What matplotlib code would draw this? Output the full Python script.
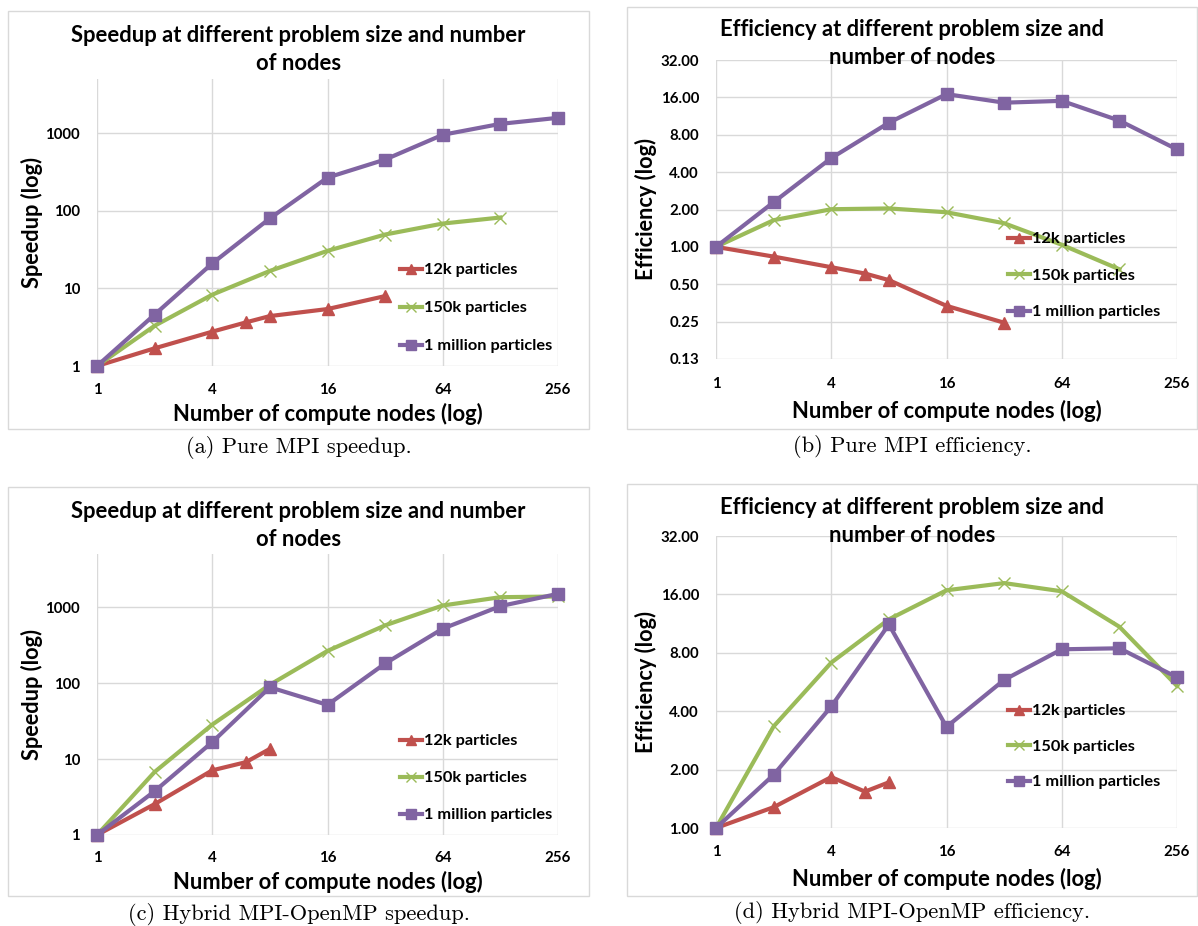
import matplotlib
matplotlib.use('Agg')
import matplotlib.pyplot as plt
from matplotlib.patches import Rectangle
from matplotlib.font_manager import FontProperties
from matplotlib.ticker import FixedLocator, FixedFormatter, NullLocator

# 数据
nodes = [1, 2, 4, 8, 16, 32, 64, 128, 256]
nodes_12k = [1, 2, 4, 6, 8, 16, 32]
nodes_12k_hybrid = [1, 2, 4, 6, 8]
nodes_150k_mpi = [1, 2, 4, 8, 16, 32, 64, 128]

mpi_speedup_12k = [1, 1.69, 2.77, 3.65, 4.4, 5.42, 7.96]
mpi_speedup_150k = [1, 3.3, 8.3, 16.8, 30.5, 49.5, 68.5, 82]
mpi_speedup_1m = [1, 4.6, 21, 80, 268, 458, 955, 1320, 1580]

mpi_eff_12k = [1, 0.835, 0.686, 0.61, 0.54, 0.335, 0.245]
mpi_eff_150k = [1, 1.64, 2.01, 2.04, 1.9, 1.55, 1.04, 0.66]
mpi_eff_1m = [1, 2.29, 5.19, 10.0, 17.0, 14.5, 15.0, 10.4, 6.1]

hyb_speedup_12k = [1, 2.55, 7.1, 9.1, 13.6]
hyb_speedup_150k = [1, 6.76, 28.4, 95, 265, 575, 1050, 1350, 1380]
hyb_speedup_1m = [1, 3.77, 16.7, 88, 51.6, 181, 520, 1030, 1495]

hyb_eff_12k = [1, 1.28, 1.83, 1.54, 1.72]
hyb_eff_150k = [1, 3.34, 7.12, 11.9, 16.8, 18.3, 16.6, 10.9, 5.4]
hyb_eff_1m = [1, 1.88, 4.23, 11.2, 3.32, 5.8, 8.34, 8.44, 5.98]

series_names = ['12k particles', '150k particles', '1 million particles']
x_ticks = [1, 4, 16, 64, 256]
speedup_ticks = [1, 10, 100, 1000]
speedup_labels = ['1', '10', '100', '1000']
eff_ticks_b = [0.125, 0.25, 0.5, 1, 2, 4, 8, 16, 32]
eff_labels_b = ['0.13', '0.25', '0.50', '1.00', '2.00', '4.00', '8.00', '16.00', '32.00']
eff_ticks_d = [1, 2, 4, 8, 16, 32]
eff_labels_d = ['1.00', '2.00', '4.00', '8.00', '16.00', '32.00']
xlabel = 'Number of compute nodes (log)'

W, H = 1198, 926
FONT = 'Lato'
fig = plt.figure(figsize=(W / 100, H / 100), dpi=100)
renderer = fig.canvas.get_renderer()

def fx(x):
    return x / W

def fy(y):
    return 1 - y / H

def text_wh(s, family, weight, size):
    prop = FontProperties(family=family, weight=weight, size=size)
    w, h, d = renderer.get_text_width_height_descent(s, prop, ismath=False)
    return w, h

def fit(s, target, family=FONT, weight='bold'):
    # 按参考图中文字的像素宽度换算字号
    w, _ = text_wh(s, family, weight, 10)
    return 10 * target / w

title_size = fit('Speedup at different problem size and number', 455)
xlabel_size = fit(xlabel, 310)
ylabel_size = fit('Speedup (log)', 132)
tick_size = fit('1000', 35)
legend_size = fit('1 million particles', 128)
caption_size = fit('(a) Pure MPI speedup.', 226, family='cmr10', weight='normal')
legend_text_h = text_wh('lp', FONT, 'bold', legend_size)[1]
legend_fs_px = legend_size * 100 / 72

colors = ['#C0504D', '#9BBB59', '#8064A2']

panels = [
    dict(box=(8, 11, 589, 429), plot=(97, 79, 558, 366),
         title=['Speedup at different problem size and number', 'of nodes'], ty=(35, 63),
         ylabel='Speedup (log)', ylx=32, xly=414, tky=388,
         cap='(a) Pure MPI speedup.', capy=448,
         ylim=(1, 5000), yticks=speedup_ticks, ylabels=speedup_labels, ybase=10,
         series=[(nodes_12k, mpi_speedup_12k), (nodes_150k_mpi, mpi_speedup_150k), (nodes, mpi_speedup_1m)],
         leg=(400, 270, 37.5)),
    dict(box=(627, 7, 1197, 429), plot=(716, 60, 1177, 359),
         title=['Efficiency at different problem size and', 'number of nodes'], ty=(30, 58),
         ylabel='Efficiency (log)', ylx=646, xly=411, tky=382,
         cap='(b) Pure MPI efficiency.', capy=447,
         ylim=(0.125, 32), yticks=eff_ticks_b, ylabels=eff_labels_b, ybase=2,
         series=[(nodes_12k, mpi_eff_12k), (nodes_150k_mpi, mpi_eff_150k), (nodes, mpi_eff_1m)],
         leg=(1008, 239, 36)),
    dict(box=(8, 487, 589, 896), plot=(97, 554, 558, 835),
         title=['Speedup at different problem size and number', 'of nodes'], ty=(511, 539),
         ylabel='Speedup (log)', ylx=32, xly=882, tky=857,
         cap='(c) Hybrid MPI-OpenMP speedup.', capy=914,
         ylim=(1, 5000), yticks=speedup_ticks, ylabels=speedup_labels, ybase=10,
         series=[(nodes_12k_hybrid, hyb_speedup_12k), (nodes, hyb_speedup_150k), (nodes, hyb_speedup_1m)],
         leg=(400, 741, 36.5)),
    dict(box=(627, 484, 1197, 896), plot=(716, 536, 1177, 828),
         title=['Efficiency at different problem size and', 'number of nodes'], ty=(507, 535),
         ylabel='Efficiency (log)', ylx=646, xly=879, tky=851,
         cap='(d) Hybrid MPI-OpenMP efficiency.', capy=912,
         ylim=(1, 32), yticks=eff_ticks_d, ylabels=eff_labels_d, ybase=2,
         series=[(nodes_12k_hybrid, hyb_eff_12k), (nodes, hyb_eff_150k), (nodes, hyb_eff_1m)],
         leg=(1008, 711, 35)),
]

markers = [dict(marker='^', markersize=9),
           dict(marker='x', markersize=8.5, markeredgewidth=1.0),
           dict(marker='s', markersize=8.5)]

for p in panels:
    # 外框
    bx0, by0, bx1, by1 = p['box']
    fig.patches.append(Rectangle((fx(bx0), fy(by1)), fx(bx1 - bx0), (by1 - by0) / H,
                                 transform=fig.transFigure, fill=False,
                                 edgecolor='#d9d9d9', linewidth=1.0))
    x0, y0, x1, y1 = p['plot']
    ax = fig.add_axes([fx(x0), fy(y1), fx(x1 - x0), (y1 - y0) / H])
    ax.set_xscale('log', base=2)
    ax.set_yscale('log', base=p['ybase'])
    for (xs, ys), c, m, name in zip(p['series'], colors, markers, series_names):
        ax.plot(xs, ys, color=c, linewidth=3, markerfacecolor=c, markeredgecolor=c,
                label=name, clip_on=False, zorder=3, **m)
    ax.set_xlim(1, 256)
    ax.set_ylim(*p['ylim'])
    ax.xaxis.set_major_locator(FixedLocator(x_ticks))
    ax.xaxis.set_major_formatter(FixedFormatter([str(t) for t in x_ticks]))
    ax.xaxis.set_minor_locator(NullLocator())
    ax.yaxis.set_major_locator(FixedLocator(p['yticks']))
    ax.yaxis.set_major_formatter(FixedFormatter(p['ylabels']))
    ax.yaxis.set_minor_locator(NullLocator())
    ax.grid(True, color='#d9d9d9', linewidth=1.0)
    ax.set_axisbelow(True)
    for s in ax.spines.values():
        s.set_visible(False)
    ax.tick_params(length=0, labelsize=tick_size, pad=17 * 0.72)
    for lab in ax.get_xticklabels() + ax.get_yticklabels():
        lab.set_fontfamily(FONT)
        lab.set_fontweight('bold')
    tick_h = text_wh('1', FONT, 'bold', tick_size)[1]
    ax.tick_params(axis='x', pad=((p['tky'] - y1) - tick_h / 2) * 0.72)

    cx = (bx0 + bx1) / 2
    for line, ty in zip(p['title'], p['ty']):
        fig.text(fx(cx), fy(ty), line, ha='center', va='center', fontsize=title_size,
                 fontweight='bold', family=FONT)
    fig.text(fx(p['ylx']), fy((y0 + y1) / 2), p['ylabel'], rotation=90, ha='center',
             va='center', fontsize=ylabel_size, fontweight='bold', family=FONT)
    fig.text(fx((x0 + x1) / 2), fy(p['xly']), xlabel, ha='center',
             va='center', fontsize=xlabel_size, fontweight='bold', family=FONT)
    fig.text(fx(cx), fy(p['capy']), p['cap'], ha='center', va='center', fontsize=caption_size,
             family='cmr10')

    lx, ly, pitch = p['leg']
    ax.legend(loc='upper left', bbox_to_anchor=(fx(lx), fy(ly - legend_text_h / 2)),
              bbox_transform=fig.transFigure, frameon=False, borderpad=0,
              borderaxespad=0, handlelength=22 / legend_fs_px, handletextpad=2 / legend_fs_px,
              labelspacing=(pitch - legend_text_h) / legend_fs_px,
              prop=dict(family=FONT, weight='bold', size=legend_size), markerscale=0.85)

fig.savefig('out.png', dpi=100)
